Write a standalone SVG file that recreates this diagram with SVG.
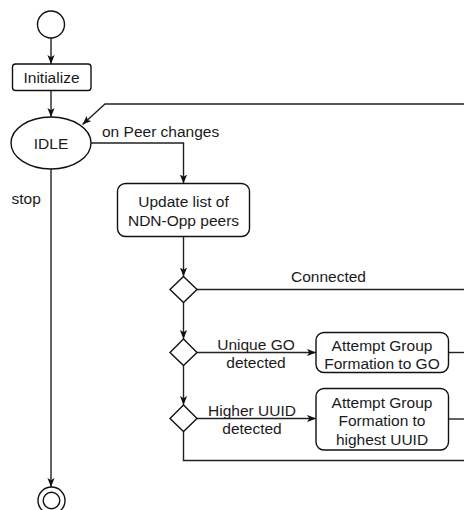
<svg xmlns="http://www.w3.org/2000/svg" width="464" height="510" viewBox="0 0 464 510">
  <defs>
    <marker id="arrow" viewBox="0 0 10 8" refX="10" refY="4" markerWidth="9" markerHeight="7.5" orient="auto" markerUnits="userSpaceOnUse">
      <path d="M0,0 L10,4 L0,8 L2.5,4 Z" fill="#111"/>
    </marker>
    <style>
      .shape { fill: #fff; stroke: #111; stroke-width: 1.4; }
      .edge { fill: none; stroke: #222; stroke-width: 1.4; }
      .arr { marker-end: url(#arrow); }
      text { font-family: "Liberation Sans", Arial, Helvetica, sans-serif; font-size: 15.5px; fill: #1a1a1a; }
      .c { text-anchor: middle; }
    </style>
  </defs>
  <rect width="464" height="510" fill="#fff"/>

  <!-- connectors -->
  <g id="connectors">
    <path class="edge arr" d="M51,38 L51,64"/>
    <path class="edge arr" d="M51,90.5 L51,117"/>
    <path class="edge arr" d="M464,104 L105,104 L82.5,124.5"/>
    <path class="edge arr" d="M91,143 L183.5,143 L183.5,183.5"/>
    <path class="edge arr" d="M183.5,236.5 L183.5,276.5"/>
    <path class="edge" d="M197,289.5 L464,289.5"/>
    <path class="edge arr" d="M183.5,302.5 L183.5,339"/>
    <path class="edge arr" d="M197,352.5 L316,352.5"/>
    <path class="edge" d="M448.5,352.5 L464,352.5"/>
    <path class="edge arr" d="M183.5,365.5 L183.5,405"/>
    <path class="edge arr" d="M197,418.5 L316,418.5"/>
    <path class="edge" d="M448.5,419 L464,419"/>
    <path class="edge" d="M183.5,431.5 L183.5,460.5 L464,460.5"/>
    <path class="edge arr" d="M51,169 L51,487"/>
    <!-- edge labels -->
    <text x="102" y="136.5">on Peer changes</text>
    <text x="11.5" y="203.5">stop</text>
    <text class="c" x="328.5" y="281.5">Connected</text>
    <text class="c" x="256" y="349.5">Unique GO</text>
    <text class="c" x="256" y="367.5">detected</text>
    <text class="c" x="252" y="416">Higher UUID</text>
    <text class="c" x="252" y="433.5">detected</text>
  </g>

  <g id="start">
    <circle class="shape" cx="51" cy="24.5" r="13.5"/>
  </g>

  <g id="initialize">
    <rect class="shape" x="12.5" y="64" width="78.5" height="26.5" rx="3"/>
    <text class="c" x="51.5" y="83">Initialize</text>
  </g>

  <g id="idle">
    <ellipse class="shape" cx="51" cy="143" rx="40" ry="26"/>
    <text class="c" x="51" y="148.5">IDLE</text>
  </g>

  <g id="update-peers">
    <rect class="shape" x="117.5" y="183.5" width="132" height="53" rx="8"/>
    <text class="c" x="183.5" y="207">Update list of</text>
    <text class="c" x="183.5" y="225.5">NDN-Opp peers</text>
  </g>

  <g id="decision-connected">
    <path class="shape" d="M183.5,276.5 L197,289.5 L183.5,302.5 L170,289.5 Z"/>
  </g>

  <g id="decision-unique-go">
    <path class="shape" d="M183.5,339 L197,352.5 L183.5,365.5 L170,352.5 Z"/>
  </g>

  <g id="decision-higher-uuid">
    <path class="shape" d="M183.5,405 L197,418.5 L183.5,431.5 L170,418.5 Z"/>
  </g>

  <g id="attempt-go">
    <rect class="shape" x="316" y="332.5" width="132.5" height="40" rx="8"/>
    <text class="c" x="382" y="350.5">Attempt Group</text>
    <text class="c" x="382" y="368.5">Formation to GO</text>
  </g>

  <g id="attempt-uuid">
    <rect class="shape" x="316" y="388.5" width="132.5" height="61.5" rx="8"/>
    <text class="c" x="382" y="407.5">Attempt Group</text>
    <text class="c" x="382" y="426">Formation to</text>
    <text class="c" x="382" y="444.5">highest UUID</text>
  </g>

  <g id="end">
    <circle class="shape" cx="51.5" cy="500.5" r="13.5"/>
    <circle class="shape" cx="51.5" cy="500.5" r="8.3"/>
  </g>
</svg>
